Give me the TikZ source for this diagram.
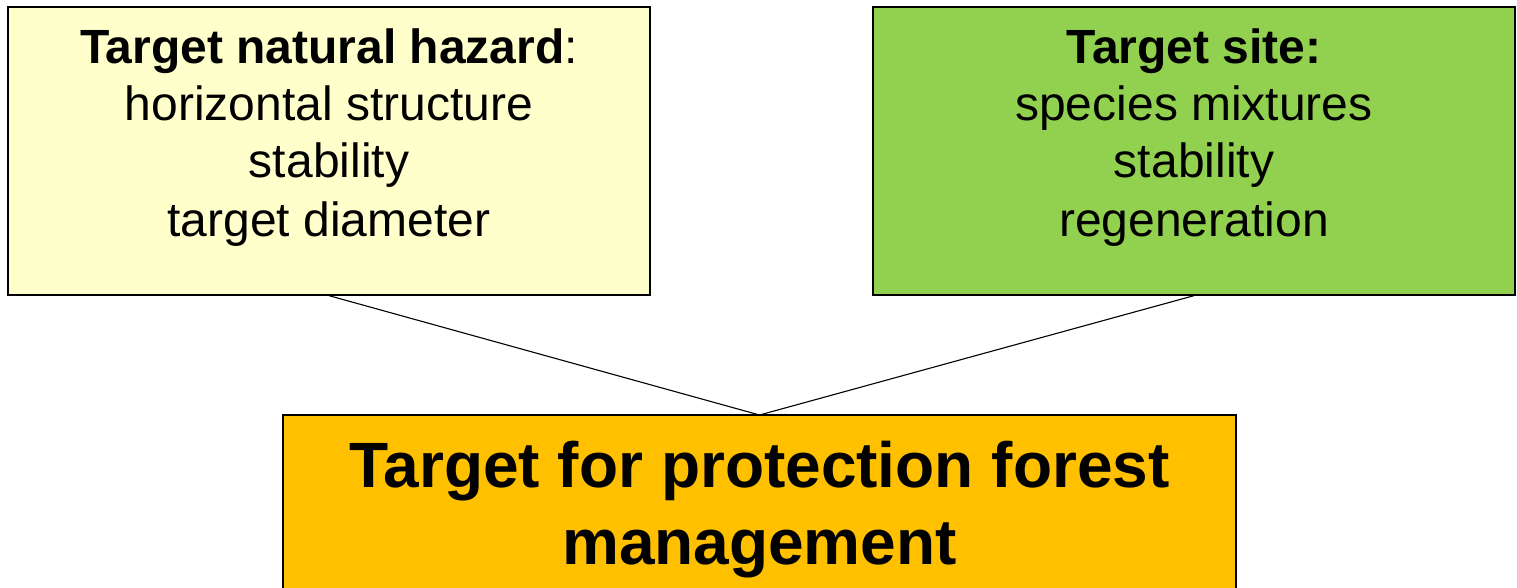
\documentclass[tikz,border=0pt]{standalone}
\usepackage{fontspec}
\setmainfont{Liberation Sans}
\definecolor{lightyel}{HTML}{FFFFCC}
\definecolor{sitegreen}{HTML}{92D050}
\definecolor{mgmtorange}{HTML}{FFC000}
\begin{document}
\begin{tikzpicture}[x=1pt,y=-1pt,
  box/.style={draw=black,line width=1.3pt,inner sep=0pt,minimum width=642pt,minimum height=288pt},
  smalltxt/.style={anchor=base,inner sep=0pt,font=\fontsize{48}{57}\selectfont},
  bigtxt/.style={anchor=base,inner sep=0pt,font=\fontsize{64}{77}\selectfont\bfseries},
  link/.style={draw=black,line width=1.1pt}]
\useasboundingbox (0,0) rectangle (1517,588);
\node[box,fill=lightyel] (hz) at (329,151) {};
\node[box,fill=sitegreen] (site) at (1194,151) {};
\node[draw=black,line width=1.3pt,fill=mgmtorange,inner sep=0pt,minimum width=953pt,minimum height=200pt] (mg) at (759.5,515) {};
\coordinate (join) at (759.5,415);
\draw[link] (hz.south) -- (join);
\draw[link] (site.south) -- (join);
\node[smalltxt] (hz1) at (329,64) {\textbf{Target natural hazard}:};
\node[smalltxt] (hz2) at (329,121) {horizontal structure};
\node[smalltxt] (hz3) at (329,178) {stability};
\node[smalltxt] (hz4) at (329,236) {target diameter};
\node[smalltxt] (st1) at (1194,64) {\textbf{Target site:}};
\node[smalltxt] (st2) at (1194,121) {species mixtures};
\node[smalltxt] (st3) at (1194,178) {stability};
\node[smalltxt] (st4) at (1194,236) {regeneration};
\node[bigtxt] (mg1) at (759.5,487) {Target for protection forest};
\node[bigtxt] (mg2) at (759.5,564) {management};
\end{tikzpicture}
\end{document}
